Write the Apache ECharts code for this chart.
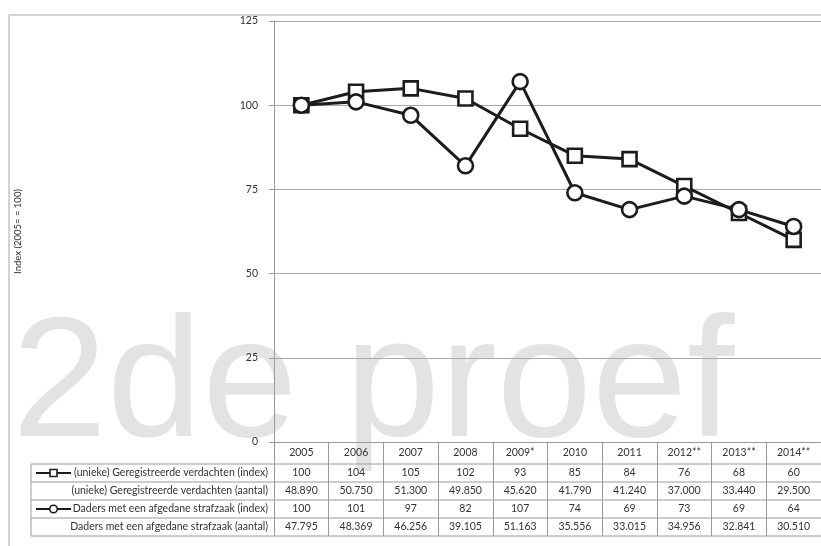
<!DOCTYPE html>
<html>
<head>
<meta charset="utf-8">
<script src="https://cdn.jsdelivr.net/npm/echarts@6/dist/echarts.min.js"></script>
<style>
  html, body { margin: 0; padding: 0; background: #fff; }
  #chart { width: 821px; height: 546px; }
</style>
</head>
<body>
<div id="chart"></div>
<script>
// Categories (years) and series values
const years = ['2005', '2006', '2007', '2008', '2009*', '2010', '2011', '2012**', '2013**', '2014**'];
const verdachtenIndex = [100, 104, 105, 102, 93, 85, 84, 76, 68, 60];
const verdachtenAantal = [48890, 50750, 51300, 49850, 45620, 41790, 41240, 37000, 33440, 29500];
const dadersIndex = [100, 101, 97, 82, 107, 74, 69, 73, 69, 64];
const dadersAantal = [47795, 48369, 46256, 39105, 51163, 35556, 33015, 34956, 32841, 30510];
const seriesNames = ['(unieke) Geregistreerde verdachten (index)', 'Daders met een afgedane strafzaak (index)'];
const rowLabels = [
  '(unieke) Geregistreerde verdachten (index)',
  '(unieke) Geregistreerde verdachten (aantal)',
  'Daders met een afgedane strafzaak (index)',
  'Daders met een afgedane strafzaak (aantal)'
];
const yAxisTitle = 'Index (2005= = 100)';
const yMin = 0, yMax = 125, yStep = 25;
const watermark = '2de proef';

const FONT = 'Lato, "Open Sans", sans-serif';
const TEXT = '#333';
const LINE = '#9a9a9a';

// Dutch thousands separator
function fmt(n) {
  return String(n).replace(/\B(?=(\d{3})+(?!\d))/g, '.');
}

const chart = echarts.init(document.getElementById('chart'), null, { renderer: 'canvas' });

const GRID = { left: 274, right: 0, top: 21, bottom: 104 };

chart.setOption({
  animation: false,
  backgroundColor: '#fff',
  textStyle: { fontFamily: FONT },
  grid: GRID,
  xAxis: {
    type: 'category',
    data: years,
    boundaryGap: true,
    axisLine: { show: true, lineStyle: { color: LINE, width: 1 } },
    // ticks on column boundaries run down through the whole table
    axisTick: { show: true, alignWithLabel: false, length: 94, lineStyle: { color: LINE, width: 1 } },
    axisLabel: { margin: 5, color: TEXT, fontSize: 10.5, fontFamily: FONT, interval: 0 },
    splitLine: { show: false }
  },
  yAxis: {
    type: 'value',
    min: yMin, max: yMax, interval: yStep,
    name: yAxisTitle,
    nameLocation: 'middle',
    nameGap: 251,
    nameRotate: 90,
    nameTextStyle: { color: TEXT, fontSize: 9.5, fontFamily: FONT },
    axisLine: { show: true, lineStyle: { color: LINE, width: 1 } },
    axisTick: { show: true, inside: false, length: 5, lineStyle: { color: LINE } },
    axisLabel: { margin: 16, color: TEXT, fontSize: 10.5, fontFamily: FONT },
    splitLine: { show: true, lineStyle: { color: '#a8a8a8', width: 1 } }
  },
  series: [
    {
      name: seriesNames[0],
      type: 'line',
      data: verdachtenIndex,
      symbol: 'rect',
      symbolSize: 14,
      showAllSymbol: true,
      lineStyle: { color: '#1c1c1c', width: 3 },
      itemStyle: { color: '#fff', borderColor: '#1c1c1c', borderWidth: 2.6 },
      z: 3
    },
    {
      name: seriesNames[1],
      type: 'line',
      data: dadersIndex,
      symbol: 'circle',
      symbolSize: 15,
      showAllSymbol: true,
      lineStyle: { color: '#1c1c1c', width: 3 },
      itemStyle: { color: '#fff', borderColor: '#1c1c1c', borderWidth: 2.6 },
      z: 4
    }
  ]
});

// Data table below the plot, aligned to the category axis
function buildTable() {
  const W = chart.getWidth();
  const plotBottom = chart.getHeight() - GRID.bottom;
  const headerBottom = plotBottom + 22;
  const rowH = 18;
  const tableLeft = 31;
  const labelRight = 268;
  const els = [];

  // outer frame
  els.push({ type: 'line', shape: { x1: 9, y1: 15, x2: W, y2: 15 }, style: { stroke: '#c4c4c4', lineWidth: 1.5 }, z: 1 });
  els.push({ type: 'line', shape: { x1: 9, y1: 15, x2: 9, y2: chart.getHeight() }, style: { stroke: '#c4c4c4', lineWidth: 1.5 }, z: 1 });

  // horizontal row lines
  for (let r = 0; r <= rowLabels.length; r++) {
    const y = headerBottom + r * rowH;
    els.push({ type: 'line', shape: { x1: tableLeft, y1: y, x2: W, y2: y }, style: { stroke: LINE, lineWidth: 1 }, z: 1 });
  }
  // left edge of label column
  els.push({ type: 'line', shape: { x1: tableLeft, y1: headerBottom, x2: tableLeft, y2: headerBottom + rowLabels.length * rowH }, style: { stroke: LINE, lineWidth: 1 }, z: 1 });

  const rows = [
    verdachtenIndex.map(String),
    verdachtenAantal.map(fmt),
    dadersIndex.map(String),
    dadersAantal.map(fmt)
  ];

  rows.forEach((vals, r) => {
    const cy = headerBottom + r * rowH + rowH / 2;
    els.push({
      type: 'text', z: 2,
      style: { text: rowLabels[r], x: labelRight, y: cy, align: 'right', verticalAlign: 'middle', fill: TEXT, font: '10.5px ' + FONT }
    });
    vals.forEach((v, i) => {
      const cx = chart.convertToPixel({ xAxisIndex: 0 }, i);
      els.push({
        type: 'text', z: 2,
        style: { text: v, x: cx, y: cy, align: 'center', verticalAlign: 'middle', fill: TEXT, font: '10.5px ' + FONT }
      });
    });
  });

  // legend keys in the index rows
  const keyY0 = headerBottom + rowH / 2;
  const keyY2 = headerBottom + 2 * rowH + rowH / 2;
  [keyY0, keyY2].forEach((ky, k) => {
    els.push({ type: 'line', shape: { x1: 36, y1: ky, x2: 71, y2: ky }, style: { stroke: '#1c1c1c', lineWidth: 2 }, z: 2 });
    if (k === 0) {
      els.push({ type: 'rect', shape: { x: 50, y: ky - 3.5, width: 7, height: 7 }, style: { fill: '#fff', stroke: '#1c1c1c', lineWidth: 1.6 }, z: 3 });
    } else {
      els.push({ type: 'circle', shape: { cx: 53.5, cy: ky, r: 3.8 }, style: { fill: '#fff', stroke: '#1c1c1c', lineWidth: 1.6 }, z: 3 });
    }
  });

  // draft watermark behind everything (baseline near y = 436)
  els.push({
    type: 'text', z: -10, silent: true,
    style: { text: watermark, x: 12, y: 389, align: 'left', verticalAlign: 'middle', fill: '#e3e3e3', font: '171px "Liberation Sans", Arial, sans-serif' }
  });

  chart.setOption({ graphic: { elements: els } });
}

buildTable();
</script>
</body>
</html>
